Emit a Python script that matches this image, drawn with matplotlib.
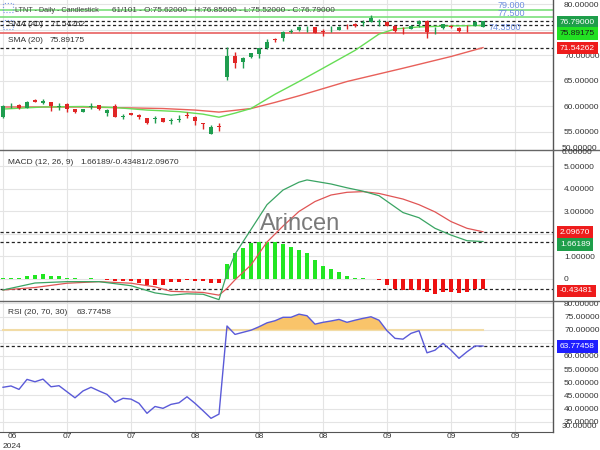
import matplotlib
matplotlib.use("Agg")
import matplotlib.pyplot as plt
from matplotlib.lines import Line2D
from matplotlib.patches import Rectangle
import numpy as np

plt.rcParams['font.family'] = ['Liberation Sans', 'DejaVu Sans']

# ---------------- data ----------------
opens = [57.9, 60.0, 60.3, 59.8, 61.3, 60.6, 60.8, 59.9, 60.5, 59.5,
         59.0, 59.9, 60.2, 58.7, 60.0, 57.9, 58.7, 58.3, 57.7, 57.6,
         57.7, 57.1, 57.4, 58.3, 58.0, 56.6, 54.7, 56.1, 65.7, 69.9,
         68.8, 69.8, 70.3, 71.4, 73.2, 73.4, 74.6, 74.9, 75.3, 75.5,
         74.7, 75.1, 75.0, 75.8, 76.2, 76.4, 76.6, 76.6, 76.6, 75.8,
         75.4, 75.2, 76.1, 76.8, 75.1, 75.3, 75.7, 75.4, 75.8, 75.8, 75.62]
highs = [60.2, 60.6, 60.4, 61.0, 61.5, 61.5, 60.9, 60.6, 60.6, 59.6,
         59.6, 60.6, 60.3, 59.5, 60.4, 58.5, 58.8, 58.6, 57.8, 58.2,
         57.8, 57.8, 58.3, 59.0, 58.1, 56.7, 56.4, 56.8, 71.6, 70.7,
         69.8, 70.5, 71.5, 73.3, 73.5, 74.8, 75.1, 75.7, 75.7, 75.6,
         75.1, 75.7, 75.7, 76.1, 76.3, 77.0, 77.9, 77.1, 76.7, 75.9,
         75.6, 75.9, 76.9, 77.0, 75.6, 76.2, 75.9, 75.5, 76.0, 76.7, 76.85]
lows = [57.8, 59.7, 59.6, 59.7, 60.8, 60.5, 59.2, 59.4, 58.9, 58.8,
        58.9, 59.5, 59.4, 58.1, 57.9, 57.6, 58.3, 57.6, 56.5, 56.8,
        56.9, 56.5, 56.9, 57.8, 56.3, 55.5, 54.6, 55.1, 65.1, 67.6,
        67.6, 69.6, 69.6, 71.3, 72.7, 72.9, 74.4, 74.8, 74.6, 74.4,
        73.8, 74.6, 74.9, 75.2, 75.5, 75.8, 76.5, 75.8, 75.7, 74.6,
        74.3, 75.1, 75.5, 73.4, 74.3, 75.1, 75.4, 74.7, 74.7, 75.7, 75.52]
closes = [60.0, 60.1, 59.8, 60.9, 60.9, 61.1, 60.1, 60.0, 59.6, 58.9,
          59.5, 60.0, 59.5, 59.4, 58.0, 58.0, 58.4, 58.0, 56.7, 57.6,
          57.0, 57.3, 57.5, 58.2, 57.2, 56.5, 55.9, 56.0, 69.9, 68.5,
          69.6, 70.4, 71.4, 72.7, 73.1, 74.7, 74.7, 75.6, 75.4, 74.5,
          74.6, 75.2, 75.6, 75.7, 75.7, 76.5, 77.3, 76.6, 75.8, 74.8,
          75.3, 75.8, 76.8, 74.7, 75.2, 76.1, 75.6, 74.8, 75.7, 76.6, 76.79]

sma20_idx = [0, 5, 10, 14, 18, 22, 25, 27, 29, 31, 34, 37, 40, 44, 47, 49, 52, 56, 60]
sma20_val = [59.5, 59.9, 60.0, 59.8, 59.3, 59.0, 58.5, 57.9, 58.7, 59.6, 62.4, 64.9,
             67.5, 71.0, 74.2, 75.2, 75.6, 75.8, 75.89175]
sma40_idx = [0, 10, 20, 24, 27, 31, 34, 37, 43, 50, 56, 60]
sma40_val = [59.9, 59.9, 59.6, 59.3, 58.9, 59.6, 60.8, 62.1, 64.9, 67.5, 69.8, 71.54262]

macd_idx = [0, 4, 8, 12, 16, 19, 21, 23, 25, 27, 28, 29, 31, 33, 35, 37, 38, 41, 43,
            45, 47, 48, 50, 52, 54, 56, 58, 60]
macd_val = [-0.49, -0.18, -0.12, -0.12, -0.3, -0.62, -0.72, -0.66, -0.68, -0.92, 0.25,
            1.1, 2.2, 3.3, 3.95, 4.3, 4.4, 4.22, 4.05, 3.9, 3.7, 3.45, 2.95, 2.72,
            2.25, 1.95, 1.7, 1.66189]
signal_idx = [0, 4, 8, 12, 16, 19, 21, 25, 27, 28, 29, 31, 33, 35, 37, 39, 41, 43,
              45, 47, 50, 52, 54, 56, 58, 60]
signal_val = [-0.49, -0.38, -0.19, -0.12, -0.19, -0.35, -0.55, -0.6, -0.72, -0.42,
              -0.04, 0.62, 1.64, 2.35, 3.0, 3.44, 3.73, 3.85, 3.88, 3.8, 3.55, 3.3,
              2.98, 2.55, 2.25, 2.0967]
hist_val = [0.03, 0.05, 0.05, 0.15, 0.18, 0.22, 0.15, 0.12, 0.06, 0.02,
            0.0, 0.02, 0.0, -0.03, -0.08, -0.08, -0.1, -0.2, -0.25, -0.28,
            -0.25, -0.15, -0.12, -0.06, -0.07, -0.08, -0.2, -0.2, 0.67, 1.14,
            1.39, 1.58, 1.62, 1.66, 1.62, 1.56, 1.44, 1.29, 1.14, 0.84,
            0.59, 0.43, 0.3, 0.13, 0.06, 0.02, -0.02, -0.05, -0.25, -0.45,
            -0.5, -0.5, -0.5, -0.6, -0.65, -0.6, -0.58, -0.63, -0.6, -0.45, -0.43481]

rsi_val = [48.1, 48.6, 47.3, 51.1, 50.2, 51.2, 48.3, 48.7, 46.4, 44.1,
           46.7, 48.1, 46.7, 45.4, 42.4, 43.9, 43.6, 42.0, 38.2, 40.8,
           40.1, 41.6, 42.2, 44.5, 42.0, 39.2, 36.3, 37.9, 71.4, 68.2,
           69.0, 69.8, 71.1, 72.6, 73.4, 74.7, 74.7, 75.9, 75.3, 72.1,
           72.8, 73.3, 73.9, 72.8, 73.6, 74.3, 74.9, 73.6, 69.6, 66.7,
           66.4, 68.6, 69.6, 61.2, 62.2, 64.8, 62.2, 59.1, 61.6, 63.8, 63.77458]

xtick_pos = [0, 8, 16, 24, 32, 40, 48, 56, 64]
xtick_lab = ["06", "07", "07", "08", "08", "08", "09", "09", "09"]

price_ticks = [55, 60, 65, 70, 75, 80]
macd_ticks = [0, 1, 2, 3, 4, 5]
rsi_ticks = [35, 40, 45, 50, 55, 60, 65, 70, 75, 80]

price_levels_green = [79.0, 77.5]
price_level_red = 74.35
last_close = 76.79
sma20_last = 75.89175
sma40_last = 71.54262
macd_last = 1.66189
signal_last = 2.0967
hist_last = -0.43481
rsi_last = 63.77458

# ---------------- figure ----------------
W, H = 600, 450
fig = plt.figure(figsize=(6, 4.5), dpi=100)
fx = lambda px: px / W
fy = lambda py: 1 - py / H
R = 553

ax1 = fig.add_axes([0, fy(150), fx(R), 150 / H])
ax2 = fig.add_axes([0, fy(301), fx(R), 151 / H])
ax3 = fig.add_axes([0, fy(432), fx(R), 131 / H])

n = len(closes)
x = np.arange(n)
GRID = '#e4e4e4'
TXT = '#333333'
for ax in (ax1, ax2, ax3):
    ax.set_xlim(-0.375, 68.75)
    ax.set_xticks(xtick_pos)
    ax.tick_params(axis='x', length=0, labelbottom=False)
    ax.yaxis.tick_right()
    ax.tick_params(axis='y', length=0, pad=8, labelsize=6, labelcolor=TXT)
    ax.grid(True, color=GRID, lw=0.8)
    ax.set_axisbelow(True)
    for s in ('left', 'top', 'bottom'):
        ax.spines[s].set_visible(False)
    ax.spines['right'].set_color('#555555')
    ax.spines['right'].set_linewidth(1)
ax3.spines['bottom'].set_visible(True)
ax3.spines['bottom'].set_color('#555555')


def make_fmt(hidden):
    def f(v, p):
        if any(abs(v - hv_) < 1e-9 for hv_ in hidden):
            return ""
        if abs(v) < 1e-9:
            return "0"
        return f"{v:.5f}"
    return matplotlib.ticker.FuncFormatter(f)

# ---------------- price panel ----------------
ax1.set_ylim(51.47, 80.88)
ax1.set_yticks(price_ticks)
ax1.yaxis.set_major_formatter(make_fmt([75]))   # covered by value boxes in the original
GREEN_C = '#1f9d4f'
RED_C = '#e02626'
o = np.array(opens); c = np.array(closes); h = np.array(highs); l = np.array(lows)
up = c >= o
cols = np.where(up, GREEN_C, RED_C)
body_b = np.minimum(o, c)
body_h = np.maximum(np.abs(c - o), 0.18)
ax1.vlines(x, l, h, colors=cols, lw=1, zorder=3)
ax1.bar(x, body_h, bottom=body_b, width=0.62, color=cols, zorder=4, linewidth=0)

ax1.plot(sma40_idx, sma40_val, color='#e8605a', lw=1, zorder=2)
ax1.plot(sma20_idx, sma20_val, color='#66dd55', lw=1, zorder=2)
for lv in price_levels_green:
    ax1.axhline(lv, color='#7be07b', lw=1.2, zorder=1)
ax1.axhline(price_level_red, color='#e86060', lw=1.2, zorder=1)
for lv in (last_close, sma20_last, sma40_last):
    ax1.axhline(lv, color='#222222', lw=0.9, ls=(0, (2.5, 2)), zorder=1)

# ---------------- MACD panel ----------------
ax2.set_ylim(-0.98, 5.73)
ax2.set_yticks(macd_ticks)
ax2.yaxis.set_major_formatter(make_fmt([2]))
hv = np.array(hist_val)
ax2.bar(x, hv, width=0.62, color=np.where(hv >= 0, '#22e622', '#ee1111'), linewidth=0, zorder=2)
ax2.plot(signal_idx, signal_val, color='#e05555', lw=0.9, zorder=3)
ax2.plot(macd_idx, macd_val, color='#3aa463', lw=0.9, zorder=3)
for lv in (signal_last, macd_last, hist_last):
    ax2.axhline(lv, color='#222222', lw=0.9, ls=(0, (2.5, 2)), zorder=1)

# ---------------- RSI panel ----------------
ax3.set_ylim(31.1, 80.9)
ax3.set_yticks(rsi_ticks)
ax3.yaxis.set_major_formatter(make_fmt([65]))
rv = np.array(rsi_val)
ax3.plot([0, n - 1], [70, 70], color='#f2dca6', lw=1.5, zorder=2)
ax3.fill_between(x, rv, 70, where=rv >= 70, interpolate=True, color='#f9c46a', lw=0, zorder=2)
ax3.plot(x, rv, color='#5a5ad8', lw=1, zorder=3)
ax3.axhline(rsi_last, color='#222222', lw=0.9, ls=(0, (2.5, 2)), zorder=1)

# x labels
for pos, lab in zip(xtick_pos, xtick_lab):
    xp = 3 + 8 * pos
    if pos == 0:
        xp = 12
    fig.text(fx(xp), fy(437), lab, fontsize=6, color=TXT, ha='center', va='center')
fig.text(fx(3), fy(446), "2024", fontsize=6, color=TXT, ha='left', va='center')

# extra clipped axis labels (crowded at panel edges, as in the original)
fig.text(fx(562), fy(149), "50.00000", fontsize=6, color=TXT, va='center')
fig.text(fx(562), fy(152), "6.00000", fontsize=6, color=TXT, va='center')
fig.text(fx(562), fy(427), "30.00000", fontsize=6, color=TXT, va='center')

# panel separators
for py in (150, 301):
    fig.add_artist(Line2D([0, 1], [fy(py), fy(py)], color='#666666', lw=1))

# ---------------- texts ----------------
fig.text(fx(15), fy(10), "LTNT - Daily - Candlestick", fontsize=5.2, color='#444444', va='center')
fig.text(fx(112), fy(10), "61/101 - O:75.62000 - H:76.85000 - L:75.52000 - C:76.79000",
         fontsize=5.9, color='#444444', va='center')
fig.text(fx(8), fy(25), "SMA (40)", fontsize=6, color=TXT, va='center')
fig.text(fx(51), fy(25), f"{sma40_last:.5f}", fontsize=6, color=TXT, va='center')
fig.text(fx(8), fy(41), "SMA (20)", fontsize=6, color=TXT, va='center')
fig.text(fx(50), fy(41), f"{sma20_last:.5f}", fontsize=6, color=TXT, va='center')
fig.text(fx(8), fy(162), "MACD (12, 26, 9)", fontsize=6, color=TXT, va='center')
fig.text(fx(80), fy(162), f"{macd_last:.5f}/{hist_last:.5f}/{signal_last:.5f}",
         fontsize=6, color=TXT, va='center')
fig.text(fx(8), fy(313), "RSI (20, 70, 30)", fontsize=6, color=TXT, va='center')
fig.text(fx(77), fy(313), f"{rsi_last:.5f}", fontsize=6, color=TXT, va='center')

LV = '#6f8fe0'
fig.text(fx(498), fy(5), "79.000", fontsize=6.5, color=LV, va='center')
fig.text(fx(498), fy(13), "77.500", fontsize=6.5, color=LV, va='center')
fig.text(fx(489), fy(28), "74.3500", fontsize=6.5, color=LV, va='center')

fig.text(fx(260), fy(224), "Arincen", fontsize=17, color='#7a7a7a', va='center', ha='left')

# icons
for py in (3, 20):
    fig.add_artist(Rectangle((fx(3), fy(py + 9)), 10 / W, 9 / H, fill=False,
                             ec='#7a9ae6', lw=0.8, ls=':'))

# value boxes
def vbox(py, txt, fc, tc):
    fig.text(fx(560), fy(py), txt, fontsize=6, color=tc, va='center', ha='left',
             bbox=dict(boxstyle='square,pad=0.35', fc=fc, ec='none'), zorder=10)

vbox(22, f"{last_close:.5f}", '#1e9e4a', 'white')
vbox(33.5, f"{sma20_last:.5f}", '#22e022', '#1a1a1a')
vbox(48, f"{sma40_last:.5f}", '#ee1c1c', 'white')
vbox(232.5, f"{signal_last:.5f}", '#ee1c1c', 'white')
vbox(244.5, f"{macd_last:.5f}", '#1e9e4a', 'white')
vbox(291, f"{hist_last:.5f}", '#ee1c1c', 'white')
vbox(346.5, f"{rsi_last:.5f}", '#1f1fff', 'white')

fig.savefig("out.png", dpi=100)
